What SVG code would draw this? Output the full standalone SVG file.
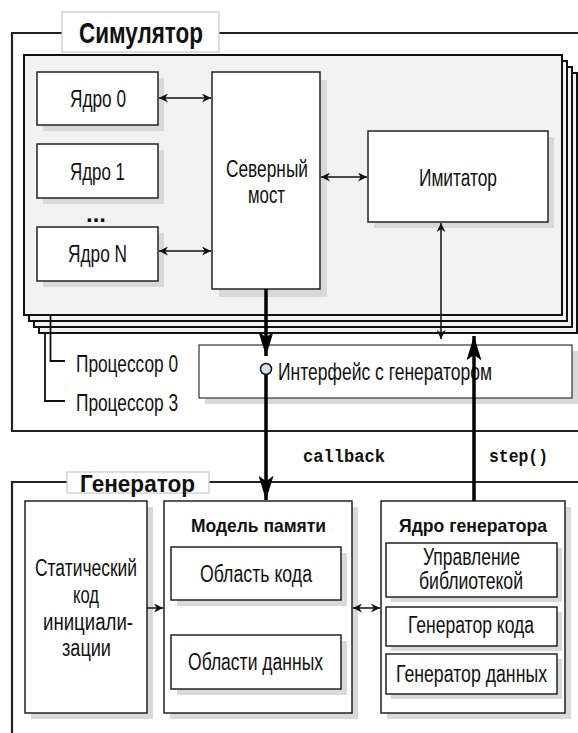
<svg xmlns="http://www.w3.org/2000/svg" width="578" height="733" viewBox="0 0 578 733">
<defs>
<style>
.t{font-family:"Liberation Sans",Arial,sans-serif;font-size:23px;fill:#111}
.b{font-weight:bold}
.m{font-family:"Liberation Mono","Courier New",monospace;font-size:19px;font-weight:bold;fill:#111}
.box{fill:#fff;stroke:#222;stroke-width:1.5}
.sh{fill:#d9d9d9}
.layer{fill:#f2f2f2;stroke:#111;stroke-width:2}
.frame{fill:none;stroke:#222;stroke-width:2.2}
.title{fill:#fff;stroke:#c8c8c8;stroke-width:1.2}
.thin{fill:none;stroke:#111;stroke-width:1.5}
.thick{fill:none;stroke:#000;stroke-width:3.5}
</style>
<marker id="a" viewBox="0 0 10 10" refX="10" refY="5" markerWidth="10" markerHeight="9" markerUnits="userSpaceOnUse" orient="auto-start-reverse"><path d="M0,0 L10,5 L0,10 L3,5 z" fill="#111"/></marker>
<marker id="A" viewBox="0 0 26 16" refX="26" refY="8" markerWidth="26" markerHeight="15" markerUnits="userSpaceOnUse" orient="auto"><path d="M0,0 L26,8 L0,16 L6,8 z" fill="#000"/></marker>
</defs>

<g id="simulator-frame">
<path class="frame" d="M578,33 H12 V431 H578"/>
<rect class="title" x="62" y="12" width="157" height="40"/>
<text class="t b" x="141" y="43" text-anchor="middle" textLength="124" lengthAdjust="spacingAndGlyphs" style="font-size:30px">Симулятор</text>
</g>

<g id="processors">
<rect class="layer" x="39" y="73" width="538" height="260"/>
<rect class="layer" x="34" y="67" width="538" height="260"/>
<rect class="layer" x="29" y="61" width="538" height="260"/>
<rect class="layer" x="24" y="55" width="538" height="260"/>
<path class="thin" d="M50.5,315 V361 H65 M45,333 V401 H65" style="stroke-width:1.8"/>
<text class="t" x="76" y="372" textLength="102" lengthAdjust="spacingAndGlyphs">Процессор 0</text>
<text class="t" x="76" y="411" textLength="102" lengthAdjust="spacingAndGlyphs">Процессор 3</text>
</g>

<g id="core0">
<rect class="sh" x="43" y="78" width="121" height="53"/>
<rect class="box" x="37" y="72" width="121" height="53"/>
<text class="t" x="98" y="107" text-anchor="middle" textLength="56" lengthAdjust="spacingAndGlyphs">Ядро 0</text>
</g>
<g id="core1">
<rect class="sh" x="43" y="150" width="121" height="54"/>
<rect class="box" x="37" y="144" width="121" height="54"/>
<text class="t" x="97.5" y="180" text-anchor="middle" textLength="55" lengthAdjust="spacingAndGlyphs">Ядро 1</text>
</g>
<g id="dots">
<text class="t b" x="96" y="222" text-anchor="middle" textLength="20" lengthAdjust="spacingAndGlyphs">...</text>
</g>
<g id="coreN">
<rect class="sh" x="43" y="233" width="121" height="54"/>
<rect class="box" x="37" y="227" width="121" height="54"/>
<text class="t" x="97.5" y="262" text-anchor="middle" textLength="59" lengthAdjust="spacingAndGlyphs">Ядро N</text>
</g>

<g id="northbridge">
<rect class="sh" x="219" y="80" width="108" height="217"/>
<rect class="box" x="212" y="72" width="108" height="217"/>
<text class="t" x="267" y="177" text-anchor="middle" textLength="82" lengthAdjust="spacingAndGlyphs">Северный</text>
<text class="t" x="266.5" y="203" text-anchor="middle" textLength="37" lengthAdjust="spacingAndGlyphs">мост</text>
</g>

<g id="imitator">
<rect class="sh" x="374" y="137" width="180" height="91"/>
<rect class="box" x="368" y="131" width="180" height="91"/>
<text class="t" x="458" y="186" text-anchor="middle" textLength="78" lengthAdjust="spacingAndGlyphs">Имитатор</text>
</g>

<g id="interface">
<rect class="sh" x="205" y="351" width="373" height="53"/>
<rect class="box" x="199" y="345" width="373" height="53" style="stroke:#333;stroke-width:1.2"/>
<text class="t" x="278" y="380" textLength="214" lengthAdjust="spacingAndGlyphs">Интерфейс с генератором</text>
</g>

<g id="generator-frame">
<path class="frame" d="M12,733 V482 H578"/>
<rect class="title" x="67" y="472" width="142" height="21"/>
<text class="t b" x="137.5" y="492" text-anchor="middle" textLength="115" lengthAdjust="spacingAndGlyphs" style="font-size:23px">Генератор</text>
</g>

<g id="static-code">
<rect class="sh" x="31" y="507" width="122" height="212"/>
<rect class="box" x="25" y="501" width="122" height="212"/>
<text class="t" x="86" y="576" text-anchor="middle" textLength="102" lengthAdjust="spacingAndGlyphs">Статический</text>
<text class="t" x="86" y="603" text-anchor="middle" textLength="26" lengthAdjust="spacingAndGlyphs">код</text>
<text class="t" x="88" y="630" text-anchor="middle" textLength="90" lengthAdjust="spacingAndGlyphs">инициали-</text>
<text class="t" x="86.5" y="656" text-anchor="middle" textLength="49" lengthAdjust="spacingAndGlyphs">зации</text>
</g>

<g id="memory-model">
<rect class="sh" x="170" y="507" width="188" height="212"/>
<rect class="box" x="164" y="501" width="188" height="212"/>
<text class="t b" x="258.5" y="532" text-anchor="middle" textLength="135" lengthAdjust="spacingAndGlyphs" style="font-size:18.5px">Модель памяти</text>
</g>
<g id="code-area">
<rect class="sh" x="177" y="553" width="170" height="53"/>
<rect class="box" x="171" y="547" width="170" height="53"/>
<text class="t" x="256" y="582" text-anchor="middle" textLength="112" lengthAdjust="spacingAndGlyphs">Область кода</text>
</g>
<g id="data-areas">
<rect class="sh" x="177" y="641" width="170" height="54"/>
<rect class="box" x="171" y="635" width="170" height="54"/>
<text class="t" x="255.5" y="670" text-anchor="middle" textLength="135" lengthAdjust="spacingAndGlyphs">Области данных</text>
</g>

<g id="generator-core">
<rect class="sh" x="387" y="507" width="184" height="212"/>
<rect class="box" x="381" y="501" width="184" height="212"/>
<text class="t b" x="473" y="532" text-anchor="middle" textLength="148" lengthAdjust="spacingAndGlyphs" style="font-size:18.5px">Ядро генератора</text>
</g>
<g id="library-control">
<rect class="sh" x="391" y="548" width="171" height="54"/>
<rect class="box" x="386" y="543" width="171" height="54"/>
<text class="t" x="471.5" y="565" text-anchor="middle" textLength="97" lengthAdjust="spacingAndGlyphs">Управление</text>
<text class="t" x="471" y="589" text-anchor="middle" textLength="104" lengthAdjust="spacingAndGlyphs">библиотекой</text>
</g>
<g id="code-generator">
<rect class="sh" x="391" y="612" width="171" height="39"/>
<rect class="box" x="386" y="607" width="171" height="39"/>
<text class="t" x="471" y="633" text-anchor="middle" textLength="126" lengthAdjust="spacingAndGlyphs">Генератор кода</text>
</g>
<g id="data-generator">
<rect class="sh" x="391" y="659" width="171" height="40"/>
<rect class="box" x="386" y="654" width="171" height="40"/>
<text class="t" x="471.5" y="682" text-anchor="middle" textLength="151" lengthAdjust="spacingAndGlyphs">Генератор данных</text>
</g>

<g id="connectors">
<line class="thin" x1="159" y1="98" x2="211" y2="98" marker-start="url(#a)" marker-end="url(#a)"/>
<line class="thin" x1="159" y1="251" x2="211" y2="251" marker-start="url(#a)" marker-end="url(#a)"/>
<line class="thin" x1="321" y1="177" x2="367" y2="177" marker-start="url(#a)" marker-end="url(#a)"/>
<line class="thin" x1="441" y1="223" x2="441" y2="339" marker-start="url(#a)" marker-end="url(#a)"/>
<line class="thick" x1="266" y1="289" x2="266" y2="356" marker-end="url(#A)"/>
<line class="thick" x1="266" y1="374" x2="266" y2="500" marker-end="url(#A)"/>
<circle cx="266" cy="369" r="5.5" fill="#cfe2f3" stroke="#111" stroke-width="1.5"/>
<line class="thick" x1="474" y1="501" x2="474" y2="336" marker-end="url(#A)"/>
<line class="thin" x1="147" y1="608" x2="163" y2="608" marker-end="url(#a)"/>
<line class="thin" x1="353" y1="608" x2="380" y2="608" marker-start="url(#a)" marker-end="url(#a)"/>
<text class="m" x="303" y="462" textLength="82" lengthAdjust="spacingAndGlyphs">callback</text>
<text class="m" x="489" y="462" textLength="59" lengthAdjust="spacingAndGlyphs">step()</text>
</g>
</svg>
